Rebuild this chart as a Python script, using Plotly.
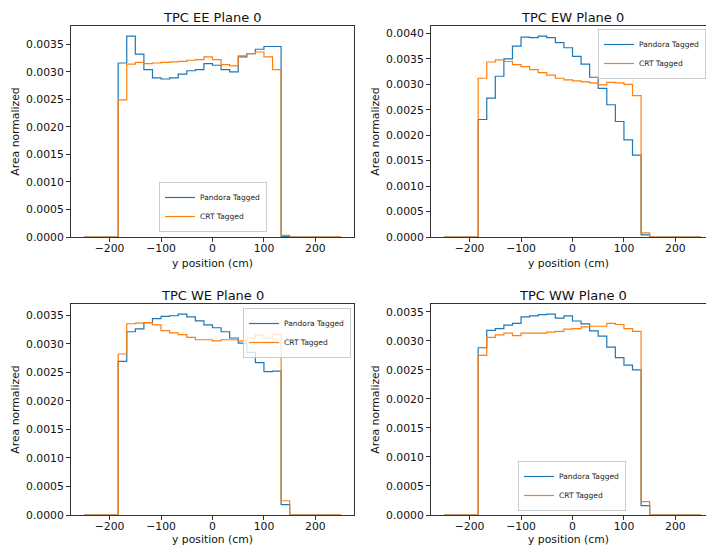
import numpy as np
import plotly.graph_objects as go

# ---------------- data ----------------
BIN_LO, BIN_HI, N_BINS = -250.0, 250.0, 30
bin_edges = np.linspace(BIN_LO, BIN_HI, N_BINS + 1)

panel_titles = ["TPC EE Plane 0", "TPC EW Plane 0", "TPC WE Plane 0", "TPC WW Plane 0"]
series_names = ["Pandora Tagged", "CRT Tagged"]

EE_pandora = [0, 0, 0, 0, 0.00316, 0.00365, 0.00332, 0.00304, 0.00289, 0.00287, 0.00289, 0.00296,
              0.00302, 0.00304, 0.00315, 0.00312, 0.00304, 0.00300, 0.00327, 0.00333, 0.00341,
              0.00346, 0.00346, 0.00001, 0, 0, 0, 0, 0, 0]
EE_crt = [0, 0, 0, 0, 0.00249, 0.00314, 0.00317, 0.00315, 0.00316, 0.00317, 0.00318, 0.00319,
          0.00321, 0.00322, 0.00327, 0.00322, 0.00313, 0.00311, 0.00329, 0.00333, 0.00336,
          0.00327, 0.00304, 0.00003, 0, 0, 0, 0, 0, 0]

EW_pandora = [0, 0, 0, 0, 0.00231, 0.00273, 0.00316, 0.00350, 0.00375, 0.00393, 0.00392, 0.00395,
              0.00392, 0.00382, 0.00372, 0.00355, 0.00340, 0.00314, 0.00292, 0.00260, 0.00227,
              0.00191, 0.00161, 0.00004, 0, 0, 0, 0, 0, 0]
EW_crt = [0, 0, 0, 0, 0.00312, 0.00344, 0.00348, 0.00345, 0.00339, 0.00335, 0.00329, 0.00323,
          0.00318, 0.00312, 0.00309, 0.00307, 0.00305, 0.00303, 0.00299, 0.00304, 0.00303,
          0.00300, 0.00278, 0.00008, 0, 0, 0, 0, 0, 0]

WE_pandora = [0, 0, 0, 0, 0.00269, 0.00321, 0.00326, 0.00337, 0.00344, 0.00348, 0.00349, 0.00352,
              0.00347, 0.00340, 0.00333, 0.00328, 0.00321, 0.00310, 0.00301, 0.00285, 0.00267,
              0.00251, 0.00252, 0.00018, 0, 0, 0, 0, 0, 0]
WE_crt = [0, 0, 0, 0, 0.00282, 0.00335, 0.00336, 0.00337, 0.00333, 0.00323, 0.00319, 0.00316,
          0.00311, 0.00307, 0.00307, 0.00305, 0.00307, 0.00307, 0.00305, 0.00310, 0.00315,
          0.00310, 0.00316, 0.00025, 0, 0, 0, 0, 0, 0]

WW_pandora = [0, 0, 0, 0, 0.00288, 0.00318, 0.00321, 0.00327, 0.00330, 0.00341, 0.00343, 0.00345,
              0.00346, 0.00339, 0.00343, 0.00334, 0.00329, 0.00317, 0.00308, 0.00289, 0.00271,
              0.00258, 0.00250, 0.00016, 0, 0, 0, 0, 0, 0]
WW_crt = [0, 0, 0, 0, 0.00275, 0.00306, 0.00310, 0.00313, 0.00309, 0.00313, 0.00313, 0.00313,
          0.00315, 0.00316, 0.00320, 0.00321, 0.00324, 0.00325, 0.00325, 0.00330, 0.00328,
          0.00321, 0.00316, 0.00023, 0, 0, 0, 0, 0, 0]

panel_data = [(EE_pandora, EE_crt), (EW_pandora, EW_crt), (WE_pandora, WE_crt), (WW_pandora, WW_crt)]
x_ticks = [-200, -100, 0, 100, 200]

# ---------------- layout ----------------
W, H = 706, 546
FONT = "DejaVu Sans"
COLORS = ["#1f77b4", "#ff7f0e"]
AX_COLOR = "#333333"

def px_x(p):
    return p / W

def px_y(p):
    return 1 - p / H

# axes boxes in pixels: (left, right, top, bottom)
boxes = [(71, 354, 26, 237), (431, 706, 26, 237), (71, 354, 304, 515), (431, 706, 304, 515)]
xranges = [[-275, 275], [-275, 259.5], [-275, 275], [-275, 259.5]]
legend_cfg = [
    dict(x=px_x(213), y=px_y(232), xanchor="center", yanchor="bottom"),
    dict(x=1.0, y=px_y(29), xanchor="right", yanchor="top"),
    dict(x=px_x(351), y=px_y(308), xanchor="right", yanchor="top"),
    dict(x=px_x(572), y=px_y(511), xanchor="center", yanchor="bottom"),
]

fig = go.Figure()
layout = dict(
    width=W, height=H,
    margin=dict(l=0, r=0, t=0, b=0, autoexpand=False),
    paper_bgcolor="white", plot_bgcolor="white",
    font=dict(family=FONT, size=11, color="#111111"),
    annotations=[],
)

for i, (title, (pand, crt)) in enumerate(zip(panel_titles, panel_data)):
    n = i + 1
    xa = "x" if n == 1 else f"x{n}"
    ya = "y" if n == 1 else f"y{n}"
    leg = "legend" if n == 1 else f"legend{n}"
    for name, vals, col in zip(series_names, (pand, crt), COLORS):
        yv = list(vals) + [vals[-1]]
        fig.add_trace(go.Scatter(
            x=bin_edges, y=yv, mode="lines", line=dict(shape="hv", color=col, width=1.2),
            name=name, xaxis=xa, yaxis=ya, legend=leg, hoverinfo="skip",
        ))
    l, r, t, b = boxes[i]
    ymax = max(max(pand), max(crt)) * 1.05
    is_right = (i % 2 == 1)
    layout["xaxis" if n == 1 else f"xaxis{n}"] = dict(
        domain=[px_x(l), px_x(r)], anchor=ya, range=xranges[i], automargin=False,
        tickvals=x_ticks, ticks="outside", ticklen=4, tickwidth=1, tickcolor=AX_COLOR,
        ticklabelstandoff=-3,
        showline=True, linecolor=AX_COLOR, linewidth=1, mirror=True,
        showgrid=False, zeroline=False, tickfont=dict(size=10.8, family=FONT, color="#111"),
        title=dict(text="y position (cm)", font=dict(size=10.8, family=FONT, color="#111"), standoff=5),
    )
    layout["yaxis" if n == 1 else f"yaxis{n}"] = dict(
        domain=[px_y(b), px_y(t)], anchor=xa, range=[0, ymax], automargin=False,
        dtick=0.0005, tick0=0, tickformat=".4f", ticks="outside", ticklen=4, tickwidth=1,
        tickcolor=AX_COLOR, showline=True, linecolor=AX_COLOR, linewidth=1,
        mirror=(not is_right), showgrid=False, zeroline=False,
        tickfont=dict(size=10.8, family=FONT, color="#111"),
        title=dict(text="Area normalized", font=dict(size=10.8, family=FONT, color="#111"), standoff=4),
    )
    layout[leg] = dict(
        **legend_cfg[i], bgcolor="rgba(255,255,255,0.8)", bordercolor="#cccccc", borderwidth=1,
        font=dict(size=7.5, family=FONT, color="#222"), tracegroupgap=0,
    )
    layout["annotations"].append(dict(
        text=title, xref="paper", yref="paper", x=px_x((l + (l + 283)) / 2), y=px_y(18 if i < 2 else 295),
        xanchor="center", yanchor="middle", showarrow=False,
        font=dict(size=13, family=FONT, color="#111"),
    ))

fig.update_layout(**layout)
fig.write_html(
    "out.html",
    config={"displayModeBar": False},
    post_script="document.body.style.margin='0';document.body.style.overflow='hidden';",
)
